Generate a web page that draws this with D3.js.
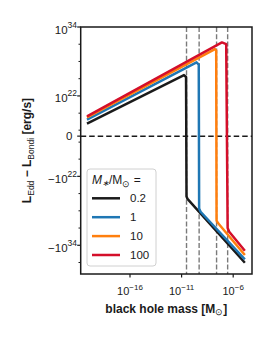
<!DOCTYPE html>
<meta charset="utf-8">
<script src="https://d3js.org/d3.v7.min.js"></script>
<style>
body { margin: 0; background: #fff; }
text { font-family: "Liberation Sans", Arial, sans-serif; fill: #1a1a1a; }
</style>
<body></body>
<script>

// star masses (legend) and line colours
var starMass = ["0.2", "1", "10", "100"];
var colors = ["#1a1a1a", "#1f77b4", "#ff7f0e", "#d40f2a"];

// black hole mass [Msun] and L_Edd - L_Bondi [erg/s]
var massBlack = [6.8e-21, 1.7e-11, 2.7e-11, 3.0e-11, 3.7e-11, 1.35e-5];
var lumBlack  = [1.5e17, 4.3e25, 2.0e25, -3e25, -8.5e25, -1.1e37];

var massBlue = [6.8e-21, 2.8e-10, 4.6e-10, 5.0e-10, 6.9e-10, 1.35e-5];
var lumBlue  = [7.8e17, 7.1e27, 2.9e27, -4e27, -1.45e28, -2.8e36];

var massOrange = [6.8e-21, 1.7e-8, 2.25e-8, 2.45e-8, 3.5e-8, 1.35e-5];
var lumOrange  = [1.9e18, 1.45e30, 8e29, -4.9e29, -1.5e30, -5e35];

var massRed = [6.8e-21, 8.1e-8, 2.1e-7, 2.9e-7, 4.1e-7, 1.35e-5];
var lumRed  = [2.8e18, 2.1e31, 1.07e31, -1e31, -4.4e31, -8.9e34];

// masses where each curve crosses zero (grey dashed lines)
var critMass = [3.0e-11, 5.0e-10, 2.45e-8, 2.9e-7];

// ticks
var xTicks = [1e-16, 1e-11, 1e-6];
var xTickExp = ["\u221216", "\u221211", "\u22126"];
var yMajor = [1e34, 1e22, 0, -1e22, -1e34];
var yMajorLabel = [["10", "34"], ["10", "22"], ["0", ""], ["\u221210", "22"], ["\u221210", "34"]];
var yMinor = [1e31, 1e28, 1e25, 1e19, 1e16, -1e16, -1e19, -1e25, -1e28, -1e31, -1e37];

var series = [
  {m: massBlack, l: lumBlack},
  {m: massBlue, l: lumBlue},
  {m: massOrange, l: lumOrange},
  {m: massRed, l: lumRed}
];

var width = 274, height = 343;
var pL = 80.7, pR = 252, pT = 27, pB = 274;

var svg = d3.select("body").append("svg")
  .attr("width", width)
  .attr("height", height);

var x = d3.scaleLog()
  .domain([Math.pow(10, -20.777), Math.pow(10, -4.178)])
  .range([pL, pR]);

var y = d3.scaleSymlog()
  .constant(1e15)
  .domain([-1e39, 1e34])
  .range([pB, pT]);

svg.append("clipPath").attr("id", "clip")
  .append("rect")
  .attr("x", pL).attr("y", pT)
  .attr("width", pR - pL).attr("height", pB - pT);

var plot = svg.append("g").attr("clip-path", "url(#clip)");

// grey dashed vertical lines
plot.selectAll(".crit")
  .data(critMass)
  .enter().append("line")
  .attr("class", "crit")
  .attr("x1", function(d) { return x(d); })
  .attr("x2", function(d) { return x(d); })
  .attr("y1", pT).attr("y2", pB)
  .attr("stroke", "#7a7a7a")
  .attr("stroke-width", 1.4)
  .attr("stroke-dasharray", "5,2.2");

// zero line
plot.append("line")
  .attr("x1", pL).attr("x2", pR)
  .attr("y1", y(0)).attr("y2", y(0))
  .attr("stroke", "#1a1a1a")
  .attr("stroke-width", 1.5)
  .attr("stroke-dasharray", "5.5,3");

var line = d3.line()
  .x(function(d) { return x(d[0]); })
  .y(function(d) { return y(d[1]); });

series.forEach(function(s, i) {
  var pts = s.m.map(function(m, j) { return [m, s.l[j]]; });
  plot.append("path")
    .attr("d", line(pts))
    .attr("fill", "none")
    .attr("stroke", colors[i])
    .attr("stroke-width", 2.5)
    .attr("stroke-linejoin", "round");
});

// frame
svg.append("rect")
  .attr("x", pL).attr("y", pT)
  .attr("width", pR - pL).attr("height", pB - pT)
  .attr("fill", "none")
  .attr("stroke", "#1a1a1a")
  .attr("stroke-width", 1.5);

// x ticks
xTicks.forEach(function(t, i) {
  svg.append("line")
    .attr("x1", x(t)).attr("x2", x(t))
    .attr("y1", pB).attr("y2", pB + 3.5)
    .attr("stroke", "#1a1a1a").attr("stroke-width", 1.2);
  var tx = svg.append("text")
    .attr("x", x(t)).attr("y", 295)
    .attr("text-anchor", "middle")
    .attr("font-size", "11px");
  tx.append("tspan").text("10");
  tx.append("tspan").attr("dy", -5.5).attr("font-size", "8px").text(xTickExp[i]);
});

// y ticks
yMajor.forEach(function(t, i) {
  svg.append("line")
    .attr("x1", pL - 3.5).attr("x2", pL)
    .attr("y1", y(t)).attr("y2", y(t))
    .attr("stroke", "#1a1a1a").attr("stroke-width", 1.2);
  var lab = yMajorLabel[i];
  var ty = svg.append("text")
    .attr("x", lab[1] ? 77 : 72.5)
    .attr("y", y(t) + (lab[1] ? 6.5 : 4))
    .attr("text-anchor", "end")
    .attr("font-size", "11.5px");
  ty.append("tspan").text(lab[0]);
  if (lab[1]) ty.append("tspan").attr("dy", -6).attr("font-size", "8.5px").text(lab[1]);
});

yMinor.forEach(function(t) {
  svg.append("line")
    .attr("x1", pL - 2.2).attr("x2", pL)
    .attr("y1", y(t)).attr("y2", y(t))
    .attr("stroke", "#1a1a1a").attr("stroke-width", 1);
});

// axis labels
var xl = svg.append("text")
  .attr("x", (pL + pR) / 2).attr("y", 312.5)
  .attr("text-anchor", "middle")
  .attr("font-size", "12px")
  .attr("font-weight", "bold");
xl.append("tspan").text("black hole mass [M");
xl.append("tspan").attr("font-size", "8.5px").attr("font-weight", "normal").attr("dy", 2.5).text("\u2299");
xl.append("tspan").attr("dy", -2.5).text("]");

var yl = svg.append("text")
  .attr("transform", "translate(31," + ((pT + pB) / 2) + ") rotate(-90)")
  .attr("text-anchor", "middle")
  .attr("font-size", "12px")
  .attr("font-weight", "bold");
yl.append("tspan").text("L");
yl.append("tspan").attr("font-size", "8.5px").attr("font-weight", "normal").attr("dy", 2.5).text("Edd");
yl.append("tspan").attr("dy", -2.5).text(" \u2212 L");
yl.append("tspan").attr("font-size", "8.5px").attr("font-weight", "normal").attr("dy", 2.5).text("Bondi");
yl.append("tspan").attr("dy", -2.5).text(" [erg/s]");

// legend
var lg = svg.append("g");
lg.append("rect")
  .attr("x", 87).attr("y", 169)
  .attr("width", 69).attr("height", 97)
  .attr("rx", 3)
  .attr("fill", "#fff").attr("fill-opacity", 0.8)
  .attr("stroke", "#d0d0d0").attr("stroke-width", 1);

var title = lg.append("text")
  .attr("x", 92).attr("y", 184)
  .attr("font-size", "12px");
title.append("tspan").attr("font-style", "italic").text("M");
title.append("tspan").attr("font-style", "italic").attr("font-size", "8.5px").attr("dy", 2).text("\u2217");
title.append("tspan").attr("dy", -2).text("/M");
title.append("tspan").attr("font-size", "8.5px").attr("dy", 2.5).text("\u2299");
title.append("tspan").attr("dy", -2.5).text(" =");

var rowY = d3.scaleLinear().domain([0, 3]).range([198.3, 255]);

starMass.forEach(function(s, i) {
  lg.append("line")
    .attr("x1", 92).attr("x2", 120)
    .attr("y1", rowY(i)).attr("y2", rowY(i))
    .attr("stroke", colors[i]).attr("stroke-width", 2.5);
  lg.append("text")
    .attr("x", 130).attr("y", rowY(i) + 4)
    .attr("font-size", "11.5px")
    .text(s);
});

</script>
